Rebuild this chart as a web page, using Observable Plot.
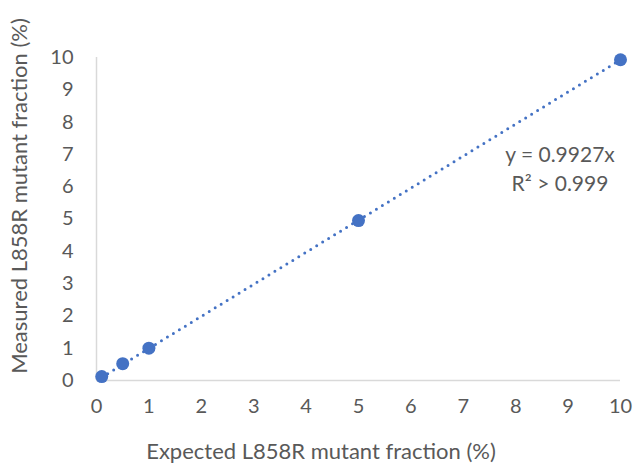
<!DOCTYPE html>
<html><head><meta charset="utf-8">
<script src="https://cdn.jsdelivr.net/npm/d3@7"></script>
<script src="https://cdn.jsdelivr.net/npm/@observablehq/plot@0.6"></script>
<style>body{margin:0;background:#fff}</style>
</head><body><div id="chart"></div>
<script>
const expected = [0.1, 0.5, 1, 5, 10];
const measured = [0.12, 0.52, 1.0, 4.95, 9.93];
const slope = 0.9927;
const trendX = [0.1, 10];
const xTicks = [0,1,2,3,4,5,6,7,8,9,10];
const yTicks = [0,1,2,3,4,5,6,7,8,9,10];
const eqLines = ["y = 0.9927x", "R² > 0.999"];
const xTitle = "Expected L858R mutant fraction (%)";
const yTitle = "Measured L858R mutant fraction (%)";

const pts = expected.map((x,i)=>({x, y: measured[i]}));
const trend = trendX.map(x=>({x, y: slope*x}));
const font = "Lato, 'Open Sans', sans-serif";
const grey = "#595959";

const plot = Plot.plot({
  width: 635, height: 465,
  marginLeft: 96, marginRight: 15, marginTop: 57, marginBottom: 85,
  style: {fontFamily: font, fontSize: "20px", color: grey, background: "#fff"},
  x: {domain: [0,10], ticks: xTicks, label: null},
  y: {domain: [0,10], ticks: yTicks, label: null},
  marks: [
    Plot.ruleY([0], {stroke: "#d9d9d9", strokeWidth: 1.5}),
    Plot.ruleX([0], {stroke: "#d9d9d9", strokeWidth: 1.5}),
    Plot.axisX({ticks: xTicks, tickSize: 0, tickPadding: 18, fill: grey, fontSize: 20}),
    Plot.axisY({ticks: yTicks, tickSize: 0, tickPadding: 23, fill: grey, fontSize: 20}),
    Plot.line(trend, {x: "x", y: "y", stroke: "#4472C4", strokeWidth: 3, strokeDasharray: "0,7", strokeLinecap: "round"}),
    Plot.dot(pts, {x: "x", y: "y", r: 6.5, fill: "#4472C4", stroke: "none"})
  ]
});
const svg = d3.select(plot);
svg.append("text").attr("x", 560).attr("y", 162).attr("text-anchor","middle")
  .attr("fill", grey).style("font-family", font).style("font-size","21px").text(eqLines[0]);
svg.append("text").attr("x", 560).attr("y", 191).attr("text-anchor","middle")
  .attr("fill", grey).style("font-family", font).style("font-size","21px").text(eqLines[1]);
svg.append("text").attr("x", 321).attr("y", 459).attr("text-anchor","middle")
  .attr("fill", grey).style("font-family", font).style("font-size","22px").text(xTitle);
svg.append("text").attr("transform","translate(27,196) rotate(-90)").attr("text-anchor","middle")
  .attr("fill", grey).style("font-family", font).style("font-size","22px").text(yTitle);
document.getElementById("chart").appendChild(plot);
</script></body></html>
